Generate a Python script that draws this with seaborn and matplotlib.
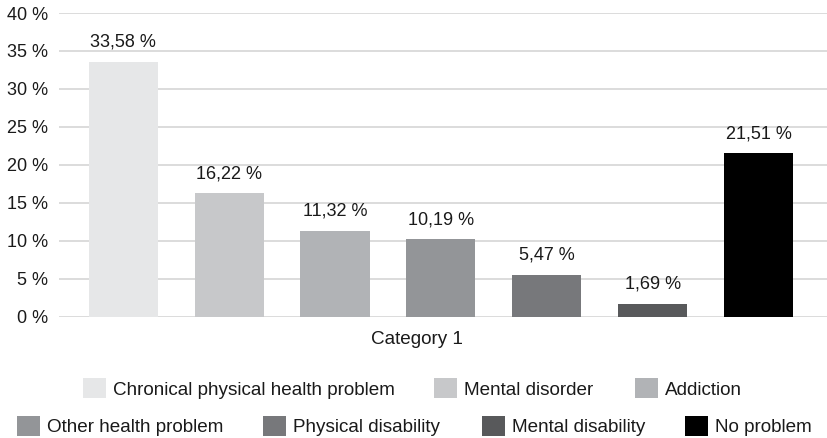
import matplotlib
matplotlib.use("Agg")
import matplotlib.pyplot as plt
import seaborn as sns
import pandas as pd
from matplotlib.patches import Patch

categories = ["Chronical physical health problem", "Mental disorder", "Addiction",
              "Other health problem", "Physical disability", "Mental disability", "No problem"]
values = [33.58, 16.22, 11.32, 10.19, 5.47, 1.69, 21.51]
colors = ["#E6E7E8", "#C7C8CA", "#B1B3B6", "#939598", "#77787B", "#58595B", "#000000"]
yticks = [0, 5, 10, 15, 20, 25, 30, 35, 40]
group_label = "Category 1"

sns.set_theme(style="white")
plt.rcParams["font.family"] = ["Liberation Sans", "DejaVu Sans"]
FS = 13
FS_LEG = 13.6

W, H = 827, 438
fig = plt.figure(figsize=(W / 100, H / 100), dpi=100)
ax = fig.add_axes([59 / W, 1 - 316.5 / H, 1 - 59 / W, (316.5 - 13) / H])

df = pd.DataFrame({"cat": categories, "val": values})
sns.barplot(data=df, x="cat", y="val", hue="cat", palette=colors, order=categories,
            hue_order=categories, width=0.652, legend=False, ax=ax, saturation=1,
            edgecolor="none", linewidth=0, zorder=3)

ax.set_xlim(-0.607, 6.647)
ax.set_ylim(0, 40)
ax.set_yticks(yticks)
ax.set_yticklabels([f"{t} %" for t in yticks], fontsize=FS, color="#1a1a1a")
ax.tick_params(axis="y", length=0, pad=8)
ax.set_xticks([])
ax.set_xlabel("")
ax.set_ylabel("")
for s in ax.spines.values():
    s.set_visible(False)
ax.grid(axis="y", color="#D9D9D9", linewidth=1.3, zorder=0)
ax.set_axisbelow(True)

for cont in ax.containers:
    ax.bar_label(cont, labels=[f"{v:.2f}".replace(".", ",") + " %" for v in cont.datavalues],
                 padding=8, fontsize=FS, color="#1a1a1a")

fig.text(417 / W, 1 - 340 / H, group_label, ha="center", va="center", fontsize=FS_LEG, color="#1a1a1a")

# legend items: (left x of patch, center y)
positions = [(83, 388.5), (434, 388.5), (635, 388.5),
             (17, 426), (263, 426), (482, 426), (685, 426)]
fs_px = FS_LEG * 100 / 72
for (x, y), lab, c in zip(positions, categories, colors):
    fig.legend(handles=[Patch(facecolor=c, edgecolor="none")], labels=[lab],
               loc="center left", bbox_to_anchor=(x / W, 1 - y / H),
               frameon=False, borderpad=0, borderaxespad=0, fontsize=FS_LEG,
               handlelength=23 / fs_px, handleheight=23 / fs_px, handletextpad=7 / fs_px,
               labelcolor="#1a1a1a")

fig.savefig("out.png", dpi=100)
